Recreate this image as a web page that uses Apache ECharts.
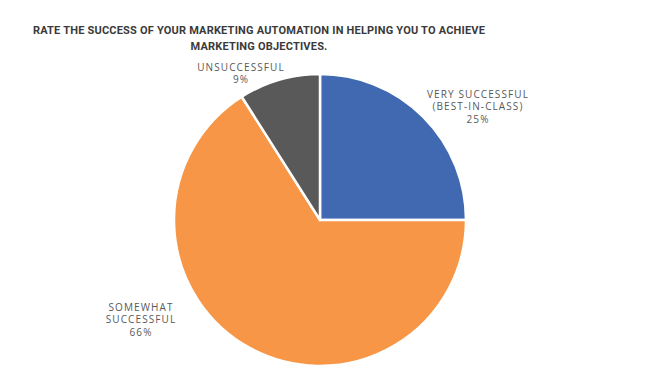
<!DOCTYPE html>
<html><head><meta charset="utf-8">
<script src="https://cdn.jsdelivr.net/npm/echarts@6/dist/echarts.min.js"></script>
<style>html,body{margin:0;padding:0;background:#fff}#c{width:650px;height:381px}</style>
</head><body><div id="c"></div>
<script>
const titleText = 'RATE THE SUCCESS OF YOUR MARKETING AUTOMATION IN HELPING YOU TO ACHIEVE\nMARKETING OBJECTIVES.';
const categories = ['VERY SUCCESSFUL\n(BEST-IN-CLASS)', 'SOMEWHAT\nSUCCESSFUL', 'UNSUCCESSFUL'];
const values = [25, 66, 9];
const colors = ['#4169b1', '#f79646', '#595959'];
const labelPos = [[478, 106], [141, 319], [241, 73]];

const chart = echarts.init(document.getElementById('c'), null, { renderer: 'svg' });
function spacing() {
  document.querySelectorAll('#c svg text').forEach(t => {
    const s = (t.getAttribute('style') || '') + ' ' + (t.getAttribute('font-weight') || '') + ' ' + (t.getAttribute('font') || '');
    t.style.letterSpacing = /bold|700/.test(s) ? '0.2px' : '1.1px';
  });
}
chart.on('finished', spacing);
chart.setOption({
  animation: false,
  title: {
    text: titleText, left: 254, top: 17, textAlign: 'center',
    textStyle: { fontFamily: 'Roboto', fontSize: 11, fontWeight: 'bold', color: '#3a3a3a', lineHeight: 16 }
  },
  series: [{
    type: 'pie', center: [320, 220], radius: 146, startAngle: 90, clockwise: true,
    data: categories.map((n, i) => ({ name: n, value: values[i], itemStyle: { color: colors[i] } })),
    itemStyle: { borderColor: '#fff', borderWidth: 2.5 },
    label: {
      show: true, position: 'outside', formatter: p => p.name + '\n' + p.value + '%',
      fontFamily: 'Open Sans', fontSize: 10, color: '#595959', lineHeight: 12.5, align: 'center'
    },
    labelLine: { show: false },
    labelLayout: p => ({ x: labelPos[p.dataIndex][0], y: labelPos[p.dataIndex][1], align: 'center', verticalAlign: 'middle' })
  }]
});
spacing();
</script></body></html>
